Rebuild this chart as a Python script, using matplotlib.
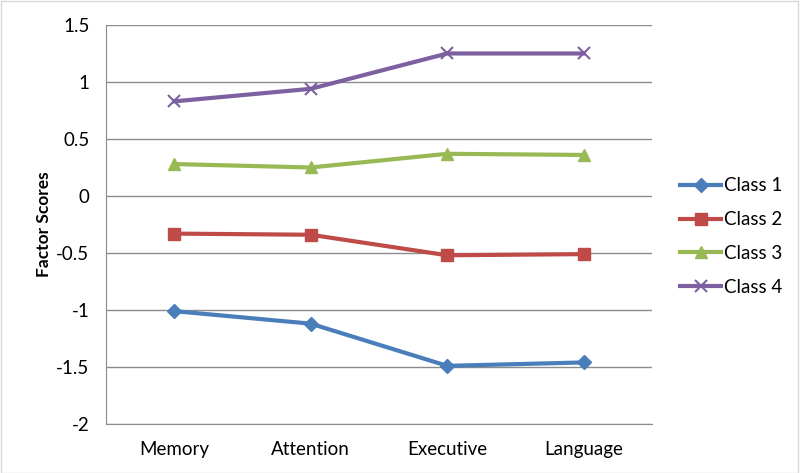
import matplotlib
matplotlib.use("Agg")
import matplotlib.pyplot as plt
from matplotlib.patches import Rectangle

plt.rcParams['font.family'] = ['Lato', 'DejaVu Sans']

categories = ["Memory", "Attention", "Executive", "Language"]
class1 = [-1.01, -1.12, -1.49, -1.46]
class2 = [-0.33, -0.34, -0.52, -0.51]
class3 = [0.28, 0.25, 0.37, 0.36]
class4 = [0.83, 0.94, 1.25, 1.25]
series_names = ["Class 1", "Class 2", "Class 3", "Class 4"]
y_ticks = [-2, -1.5, -1, -0.5, 0, 0.5, 1, 1.5]
y_labels = ["-2", "-1.5", "-1", "-0.5", "0", "0.5", "1", "1.5"]

fig = plt.figure(figsize=(8, 4.73), dpi=100)
ax = fig.add_axes([0.1325, 0.1036, 0.6825, 0.8436])

x = range(len(categories))
styles = [
    ("#4A7EBB", "D", 7),
    ("#BE4B48", "s", 8.5),
    ("#98B954", "^", 9),
    ("#7D60A0", "x", 9),
]
for vals, name, (col, mk, ms) in zip([class1, class2, class3, class4], series_names, styles):
    ax.plot(x, vals, color=col, lw=3, marker=mk, markersize=ms,
            markeredgewidth=1.5 if mk == "x" else 1, label=name)

ax.set_xlim(-0.5, 3.5)
ax.set_ylim(-2, 1.5)
ax.set_xticks(list(x))
ax.set_xticklabels(categories, fontsize=13.5)
ax.set_yticks(y_ticks)
ax.set_yticklabels(y_labels, fontsize=13.5)
ax.tick_params(length=0, pad=12)
ax.yaxis.grid(True, color="#8C8C8C", lw=1)
ax.set_axisbelow(True)
for s in ["top", "right"]:
    ax.spines[s].set_visible(False)
for s in ["left", "bottom"]:
    ax.spines[s].set_color("#8C8C8C")
ax.set_ylabel("Factor Scores", fontsize=12.5, fontweight="bold", labelpad=3)

leg = fig.legend(loc="center left", bbox_to_anchor=(0.85, 0.50), frameon=False,
                 fontsize=13.5, handlelength=2.2, labelspacing=0.9, handletextpad=0.15,
                 borderpad=0, borderaxespad=0)

fig.patches.append(Rectangle((0.001, 0.001), 0.996, 0.996, transform=fig.transFigure,
                             fill=False, edgecolor="#D9D9D9", lw=1))

fig.savefig("out.png", dpi=100)
